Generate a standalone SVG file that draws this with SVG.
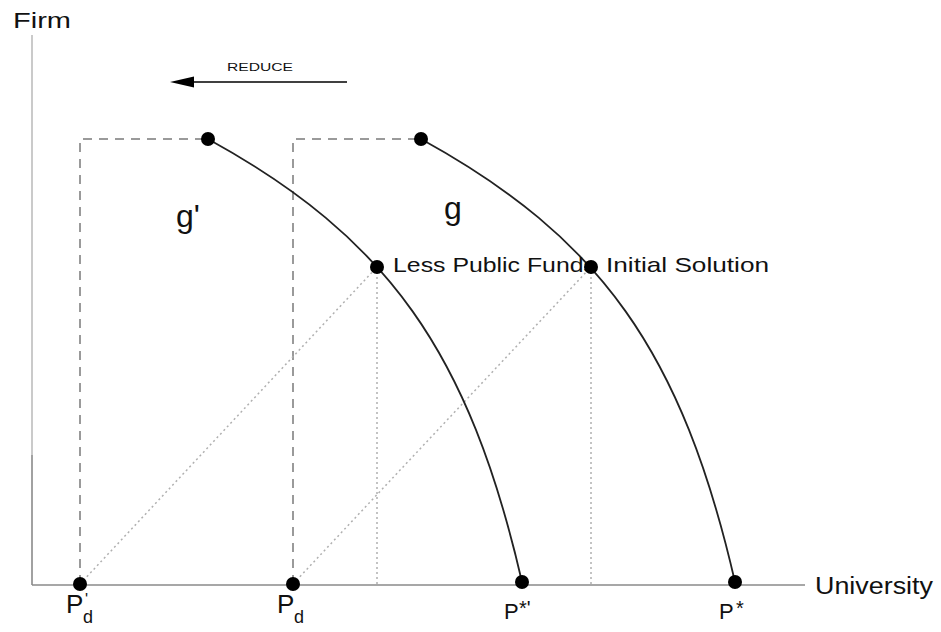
<svg xmlns="http://www.w3.org/2000/svg" width="941" height="632" viewBox="0 0 941 632">
<style>
text{font-family:"Liberation Sans",Arial,sans-serif;fill:#111}
.axis{stroke:#8a8a8a;stroke-width:1.6;fill:none}
.dash{stroke:#9a9a9a;stroke-width:2;stroke-dasharray:9,7;fill:none}
.dot{stroke:#b0b0b0;stroke-width:1.5;stroke-dasharray:2,3;fill:none}
.curve{stroke:#222;stroke-width:1.8;fill:none}
.pt{fill:#000}
</style>
<rect width="941" height="632" fill="#fff"/>
<g id="axes">
<line class="axis" x1="32" y1="35" x2="32" y2="455" style="stroke:#bdbdbd"/>
<line class="axis" x1="32" y1="455" x2="32" y2="585"/>
<line class="axis" x1="32" y1="585" x2="805" y2="585"/>
<text x="13" y="28" font-size="22" textLength="58" lengthAdjust="spacingAndGlyphs">Firm</text>
<text x="815" y="594" font-size="23" textLength="118" lengthAdjust="spacingAndGlyphs">University</text>
</g>
<g id="connectors">
<path class="dash" d="M80,584 V139 H208"/>
<path class="dash" d="M293,584 V139 H421"/>
<line class="dot" x1="80" y1="584" x2="377" y2="267"/>
<line class="dot" x1="293" y1="584" x2="591" y2="267"/>
<line class="dot" x1="377" y1="267" x2="377" y2="585"/>
<line class="dot" x1="591" y1="267" x2="591" y2="585"/>
<path class="curve" d="M208,139 C388,238 469,352 522,582"/>
<path class="curve" d="M421,139 C601,238 682,352 735,582"/>
<line x1="347" y1="82" x2="190" y2="82" stroke="#000" stroke-width="1.4"/>
<polygon points="170,82 194,76.5 194,87.5" fill="#000"/>
</g>
<g id="reduce"><text x="227" y="71" font-size="11" textLength="66" lengthAdjust="spacingAndGlyphs">REDUCE</text></g>
<g id="label-gprime"><text x="176" y="227" font-size="32">g'</text></g>
<g id="label-g"><text x="444" y="219" font-size="32">g</text></g>
<g id="label-less"><text x="393" y="272" font-size="21" textLength="203" lengthAdjust="spacingAndGlyphs">Less Public Funds</text></g>
<g id="label-initial"><text x="606" y="272" font-size="21" textLength="163" lengthAdjust="spacingAndGlyphs">Initial Solution</text></g>
<g id="node-g-top-prime"><circle class="pt" cx="208" cy="139" r="7"/></g>
<g id="node-g-top"><circle class="pt" cx="421" cy="139" r="7"/></g>
<g id="node-less"><circle class="pt" cx="377" cy="267" r="7"/></g>
<g id="node-initial"><circle class="pt" cx="591" cy="267" r="7"/></g>
<g id="node-pdprime"><circle class="pt" cx="80" cy="584" r="7"/>
<text x="66" y="613" font-size="26">P</text><text x="83" y="623" font-size="18">d</text><text x="85" y="605" font-size="16">'</text></g>
<g id="node-pd"><circle class="pt" cx="293" cy="584" r="7"/>
<text x="277" y="613" font-size="26">P</text><text x="294" y="623" font-size="18">d</text></g>
<g id="node-pstarprime"><circle class="pt" cx="522" cy="582" r="7"/>
<text x="504" y="619" font-size="22">P</text><text x="519" y="615" font-size="20">*'</text></g>
<g id="node-pstar"><circle class="pt" cx="735" cy="582" r="7"/>
<text x="719" y="619" font-size="22">P</text><text x="736" y="615" font-size="20">*</text></g>
</svg>
